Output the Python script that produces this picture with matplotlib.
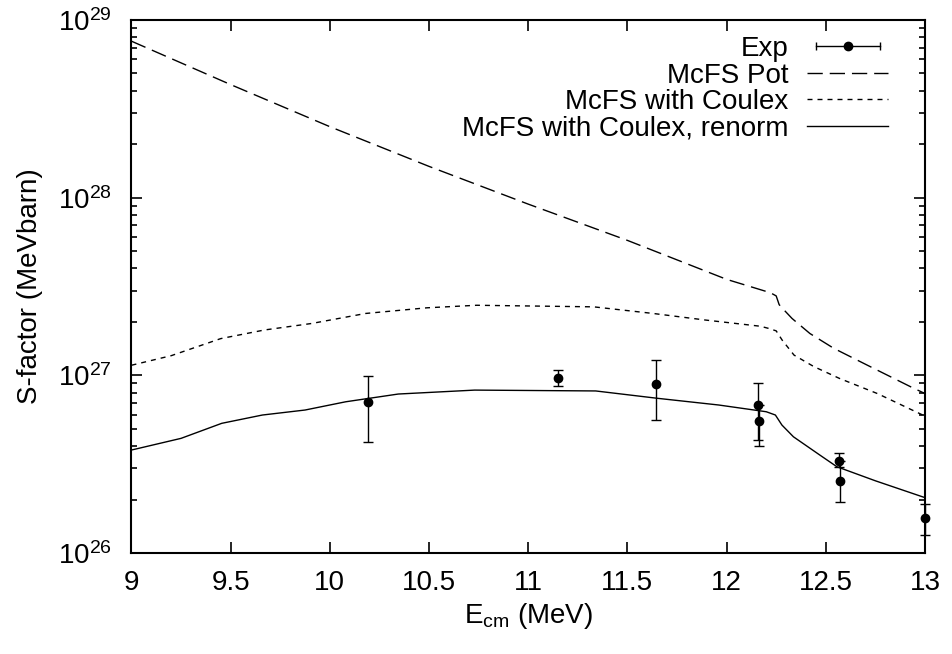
import matplotlib
matplotlib.use('Agg')
import matplotlib.pyplot as plt
from matplotlib.lines import Line2D
from matplotlib.legend_handler import HandlerLine2D, HandlerTuple
from matplotlib.ticker import FixedLocator, FuncFormatter, LogLocator

plt.rcParams['font.family'] = ['Liberation Sans', 'DejaVu Sans']
plt.rcParams['mathtext.fontset'] = 'custom'
plt.rcParams['mathtext.rm'] = 'Liberation Sans'
plt.rcParams['mathtext.it'] = 'Liberation Sans:italic'

# experimental points (E_cm in MeV, S-factor in MeV barn)
exp_e = [10.19, 11.15, 11.645, 12.156, 12.161, 12.569, 12.572, 13.0]
exp_s = [7.1e26, 9.7e26, 8.9e26, 6.8e26, 5.5e26, 3.3e26, 2.55e26, 1.58e26]
exp_hi = [9.96e26, 1.07e27, 1.22e27, 9.1e26, 6.8e26, 3.66e26, 3.3e26, 1.89e26]
exp_lo = [4.2e26, 8.7e26, 5.6e26, 4.3e26, 4.0e26, 3.06e26, 1.94e26, 1.26e26]

# McFS Pot
pot_e = [9.0, 9.5, 10.0, 10.5, 11.0, 11.5, 12.0, 12.22, 12.25, 12.265,
         12.29, 12.33, 12.42, 12.54, 12.71, 12.93, 13.0]
pot_s = [7.6e28, 4.33e28, 2.51e28, 1.5e28, 9.2e27, 5.75e27, 3.47e27, 2.92e27,
         2.8e27, 2.5e27, 2.33e27, 2.09e27, 1.72e27, 1.42e27, 1.14e27, 8.6e26, 7.9e26]

# McFS with Coulex
cx_e = [9.0, 9.2, 9.45, 9.67, 9.91, 10.18, 10.49, 10.74, 11.33, 11.63,
        11.89, 12.17, 12.21, 12.25, 12.28, 12.34, 12.44, 12.57, 12.76, 12.92, 13.0]
cx_s = [1.14e27, 1.29e27, 1.61e27, 1.8e27, 1.96e27, 2.23e27, 2.4e27, 2.48e27,
        2.43e27, 2.23e27, 2.05e27, 1.89e27, 1.84e27, 1.78e27, 1.58e27, 1.3e27,
        1.12e27, 9.6e26, 7.9e26, 6.5e26, 5.9e26]

# McFS with Coulex, renorm
rn_e = [9.0, 9.035, 9.25, 9.455, 9.66, 9.875, 10.08, 10.345, 10.73, 11.34,
        11.65, 11.96, 12.2, 12.246, 12.279, 12.337, 12.47, 12.556, 12.75, 13.0]
rn_s = [3.8e26, 3.88e26, 4.42e26, 5.37e26, 5.98e26, 6.38e26, 7.1e26, 7.85e26,
        8.26e26, 8.17e26, 7.43e26, 6.81e26, 6.24e26, 5.98e26, 5.25e26, 4.51e26,
        3.56e26, 3.06e26, 2.55e26, 2.05e26]

x_ticks = [9, 9.5, 10, 10.5, 11, 11.5, 12, 12.5, 13]

FS = 20


def main() -> None:
    fig = plt.figure(figsize=(9.52, 6.54), dpi=100)
    ax = fig.add_axes([0.1381, 0.1544, 0.8335, 0.815])

    # experimental data with asymmetric errors
    yerr = [[s - lo for s, lo in zip(exp_s, exp_lo)],
            [hi - s for s, hi in zip(exp_s, exp_hi)]]
    ax.errorbar(exp_e, exp_s, yerr=yerr, fmt='o', color='black', ms=6,
                elinewidth=1.0, capsize=3.3, capthick=1.0, clip_on=False, zorder=3)

    ax.plot(pot_e, pot_s, color='black', lw=1.0, dashes=(11, 5))
    ax.plot(cx_e, cx_s, color='black', lw=1.0, dashes=(3.6, 3.6))
    ax.plot(rn_e, rn_s, color='black', lw=1.0)

    ax.set_yscale('log')
    ax.set_xlim(9, 13)
    ax.set_ylim(1e26, 1e29)
    ax.xaxis.set_major_locator(FixedLocator(x_ticks))
    ax.xaxis.set_major_formatter(FuncFormatter(lambda v, p: '%g' % v))
    ax.yaxis.set_major_locator(LogLocator(base=10, numticks=10))
    ax.yaxis.set_minor_locator(LogLocator(base=10, subs=range(2, 10), numticks=20))
    ax.tick_params(which='both', direction='in', top=True, right=True,
                   labelsize=FS, width=1.2)
    ax.tick_params(axis='x', which='major', length=8, pad=12)
    ax.tick_params(axis='y', which='major', length=8, pad=14)
    ax.tick_params(which='minor', length=4)
    for sp in ax.spines.values():
        sp.set_linewidth(1.5)

    ax.set_xlabel(r'E$_{\mathrm{cm}}$ (MeV)', fontsize=FS, labelpad=4)
    ax.set_ylabel('S-factor (MeVbarn)', fontsize=FS, labelpad=11)

    # gnuplot style key: label on the left, sample on the right
    exp_line = Line2D([], [], color='black', lw=1.0, marker='|', ms=6, mew=1.0)
    exp_dot = Line2D([], [], color='black', ls='none', marker='o', ms=6)
    pot_h = Line2D([], [], color='black', lw=1.0, dashes=(11, 5))
    cx_h = Line2D([], [], color='black', lw=1.0, dashes=(3.6, 3.6))
    rn_h = Line2D([], [], color='black', lw=1.0)
    ax.legend([(exp_line, exp_dot), pot_h, cx_h, rn_h],
              ['Exp', 'McFS Pot', 'McFS with Coulex', 'McFS with Coulex, renorm'],
              handler_map={tuple: HandlerTuple(ndivide=1, pad=0),
                           exp_line: HandlerLine2D(numpoints=2)},
              loc='upper right', bbox_to_anchor=(0.9534, 0.970),
              frameon=False, markerfirst=False, fontsize=FS,
              handlelength=2.9, handletextpad=0.68, labelspacing=0.02,
              borderaxespad=0, borderpad=0)

    fig.savefig('out.png', dpi=100)


main()
